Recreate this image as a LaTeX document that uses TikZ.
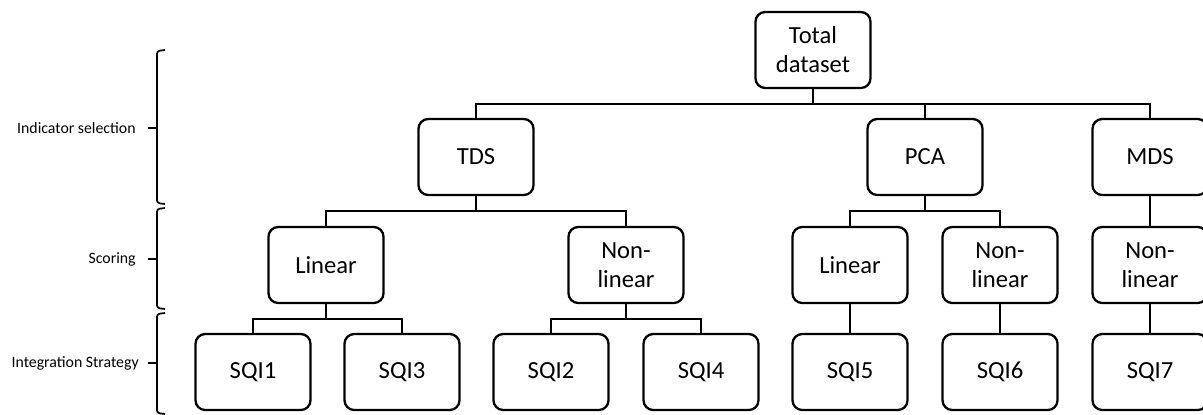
\documentclass[tikz,border=0pt]{standalone}
\usepackage{fontspec}
\setmainfont{Carlito}
\usepackage{tikz}
\usetikzlibrary{positioning,calc}

\begin{document}
\begin{tikzpicture}[x=0.02cm, y=-0.02cm,
  box/.style={rounded corners=5.5pt, draw=black, line width=1.3pt, fill=white, minimum width=2.3cm, minimum height=1.52cm, align=center, inner sep=2pt, font=\fontsize{14}{16.5}\selectfont},
  link/.style={line width=0.75pt, black},
  brace/.style={line width=1pt, black, rounded corners=1.5pt},
  stage/.style={anchor=east, inner sep=0pt, font=\fontsize{9}{11}\selectfont}]
\useasboundingbox (0,0) rectangle (1203,414);

% top level
\node[box] (total) at (813,50) {Total\\dataset};
\node[box] (tds) at (476,157) {TDS};
\node[box] (pca) at (925,157) {PCA};
\node[box] (mds) at (1150,157) {MDS};

% scoring
\node[box] (tdslin) at (326,265) {Linear};
\node[box] (tdsnon) at (626,265) {Non-\\linear};
\node[box] (pcalin) at (850,265) {Linear};
\node[box] (pcanon) at (1000,265) {Non-\\linear};
\node[box] (mdsnon) at (1150,265) {Non-\\linear};

% integration
\node[box] (sqi1) at (253,372) {SQI1};
\node[box] (sqi3) at (402,372) {SQI3};
\node[box] (sqi2) at (551,372) {SQI2};
\node[box] (sqi4) at (701,372) {SQI4};
\node[box] (sqi5) at (850,372) {SQI5};
\node[box] (sqi6) at (1000,372) {SQI6};
\node[box] (sqi7) at (1150,372) {SQI7};

% connectors
\draw[link] (total.south) -- ++(0,15) coordinate (topbar);
\draw[link] (topbar) -| (tds.north);
\draw[link] (topbar) -| (pca.north);
\draw[link] (topbar) -| (mds.north);
\draw[link] (tds.south) -- ++(0,15) coordinate (tdsbar);
\draw[link] (tdsbar) -| (tdslin.north);
\draw[link] (tdsbar) -| (tdsnon.north);
\draw[link] (pca.south) -- ++(0,15) coordinate (pcabar);
\draw[link] (pcabar) -| (pcalin.north);
\draw[link] (pcabar) -| (pcanon.north);
\draw[link] (mds) -- (mdsnon);
\draw[link] (tdslin.south) -- ++(0,15) coordinate (linbar);
\draw[link] (linbar) -| (sqi1.north);
\draw[link] (linbar) -| (sqi3.north);
\draw[link] (tdsnon.south) -- ++(0,15) coordinate (nonbar);
\draw[link] (nonbar) -| (sqi2.north);
\draw[link] (nonbar) -| (sqi4.north);
\draw[link] (pcalin) -- (sqi5);
\draw[link] (pcanon) -- (sqi6);
\draw[link] (mdsnon) -- (sqi7);

% stages on the left
\draw[brace] (165,50) -- (157,51) -- (157,203) -- (165,204);
\draw[brace] (165,208) -- (157,209) -- (157,308) -- (165,309);
\draw[brace] (165,313) -- (157,314) -- (157,413) -- (165,414);
\draw[link, line width=1pt] (157,128) -- (148,128);
\draw[link, line width=1pt] (157,259) -- (148,259);
\draw[link, line width=1pt] (157,363) -- (148,363);
\node[stage] (indsel) at (136,128) {Indicator selection};
\node[stage] (scoring) at (136,259) {Scoring};
\node[stage] (integ) at (139,363) {Integration Strategy};
\end{tikzpicture}
\end{document}
